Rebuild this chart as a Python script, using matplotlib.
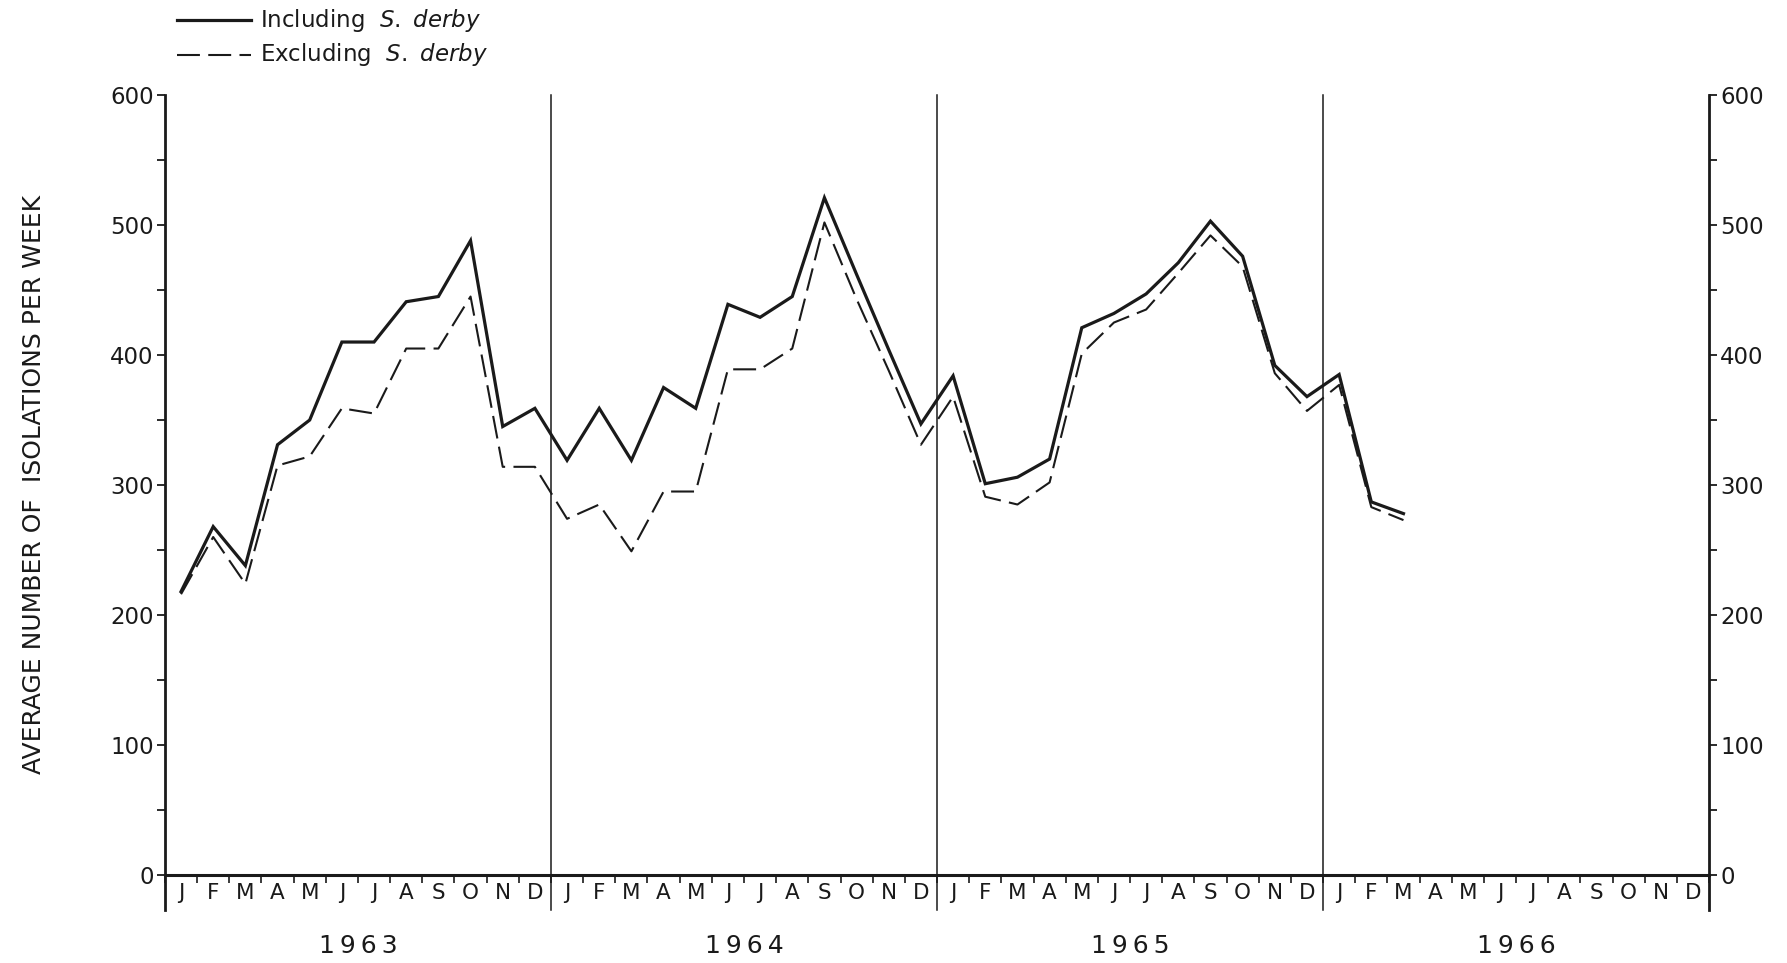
import numpy as np
import matplotlib
matplotlib.use("Agg")
import matplotlib.pyplot as plt
from matplotlib.lines import Line2D

plt.rcParams['font.family'] = ['DejaVu Sans']
plt.rcParams['mathtext.fontset'] = 'dejavusans'

# Data: monthly averages, Jan 1963 .. Mar 1966
years = ['1963', '1964', '1965', '1966']
months = ['J', 'F', 'M', 'A', 'M', 'J', 'J', 'A', 'S', 'O', 'N', 'D']
incl_derby = [218, 268, 238, 331, 350, 410, 410, 441, 445, 488, 345, 359,
              319, 359, 319, 375, 359, 439, 429, 445, 521, 462, 404, 347,
              384, 301, 306, 320, 421, 432, 447, 471, 503, 476, 392, 368,
              385, 287, 278]
excl_derby = [216, 260, 224, 315, 322, 359, 355, 405, 405, 445, 314, 314,
              274, 285, 249, 295, 295, 389, 389, 405, 502, 443, 388, 331,
              368, 291, 285, 302, 401, 425, 435, 463, 492, 468, 386, 357,
              377, 283, 273]

ink = '#1a1a1a'
n_months = 12 * len(years)

fig = plt.figure(figsize=(17.87, 9.63), dpi=100)
ax = fig.add_axes([0.0923, 0.0914, 0.8641, 0.8099])
ax.set_xlim(0, n_months)
ax.set_ylim(0, 600)

for s in ['top', 'left', 'right']:
    ax.spines[s].set_visible(False)
ax.spines['bottom'].set_linewidth(2.2)
ax.spines['bottom'].set_color(ink)

# month ticks and labels
ax.set_xticks(np.arange(n_months + 1))
ax.set_xticklabels([])
ax.set_xticks(np.arange(n_months) + 0.5, minor=True)
ax.set_xticklabels(months * len(years), minor=True, fontsize=15.5, color=ink)
ax.tick_params(axis='x', which='major', direction='out', length=6, width=1.2, color=ink)
ax.tick_params(axis='x', which='minor', length=0, pad=6)

# y ticks, both sides
yt = np.arange(0, 601, 100)
ax.set_yticks(yt)
ax.set_yticks(np.arange(0, 601, 50), minor=True)
ax.set_yticklabels([str(v) for v in yt], fontsize=16.5, color=ink)
ax.tick_params(axis='y', which='both', direction='out', length=6, width=1.3, color=ink, pad=2)

ax2 = ax.twinx()
ax2.set_ylim(0, 600)
for s in ['top', 'left', 'right', 'bottom']:
    ax2.spines[s].set_visible(False)
ax2.set_yticks(yt)
ax2.set_yticks(np.arange(0, 601, 50), minor=True)
ax2.set_yticklabels([str(v) for v in yt], fontsize=16.5, color=ink)
ax2.tick_params(axis='y', which='both', direction='out', length=6, width=1.3, color=ink, pad=2)

# axis lines and year dividers
for k in range(len(years) + 1):
    xv = 12 * k
    lw = 2.0 if k in (0, len(years)) else 1.1
    ax.plot([xv, xv], [-27, 600], color=ink, lw=lw, clip_on=False)

for k, yr in enumerate(years):
    ax.text(12 * k + 6, -55, '\u2009'.join(yr), ha='center', va='center',
            fontsize=18, color=ink, clip_on=False)

x = np.arange(len(incl_derby)) + 0.5
ax.plot(x, incl_derby, color=ink, lw=2.3, solid_joinstyle='miter')
ax.plot(x, excl_derby, color=ink, lw=1.5, dashes=(11, 4))

fig.text(0.019, 0.497, 'AVERAGE NUMBER OF  ISOLATIONS PER WEEK', rotation=90,
         ha='center', va='center', fontsize=18, color=ink)

# legend
fig.add_artist(Line2D([0.099, 0.1405], [0.979, 0.979], color=ink, lw=2.3))
fig.add_artist(Line2D([0.099, 0.1405], [0.943, 0.943], color=ink, lw=1.5, dashes=(11, 4)))
fig.text(0.1455, 0.979, r'Including  $\mathit{S.\ derby}$', ha='left', va='center',
         fontsize=16.5, color=ink)
fig.text(0.1455, 0.943, r'Excluding  $\mathit{S.\ derby}$', ha='left', va='center',
         fontsize=16.5, color=ink)

fig.savefig('out.png', dpi=100)
